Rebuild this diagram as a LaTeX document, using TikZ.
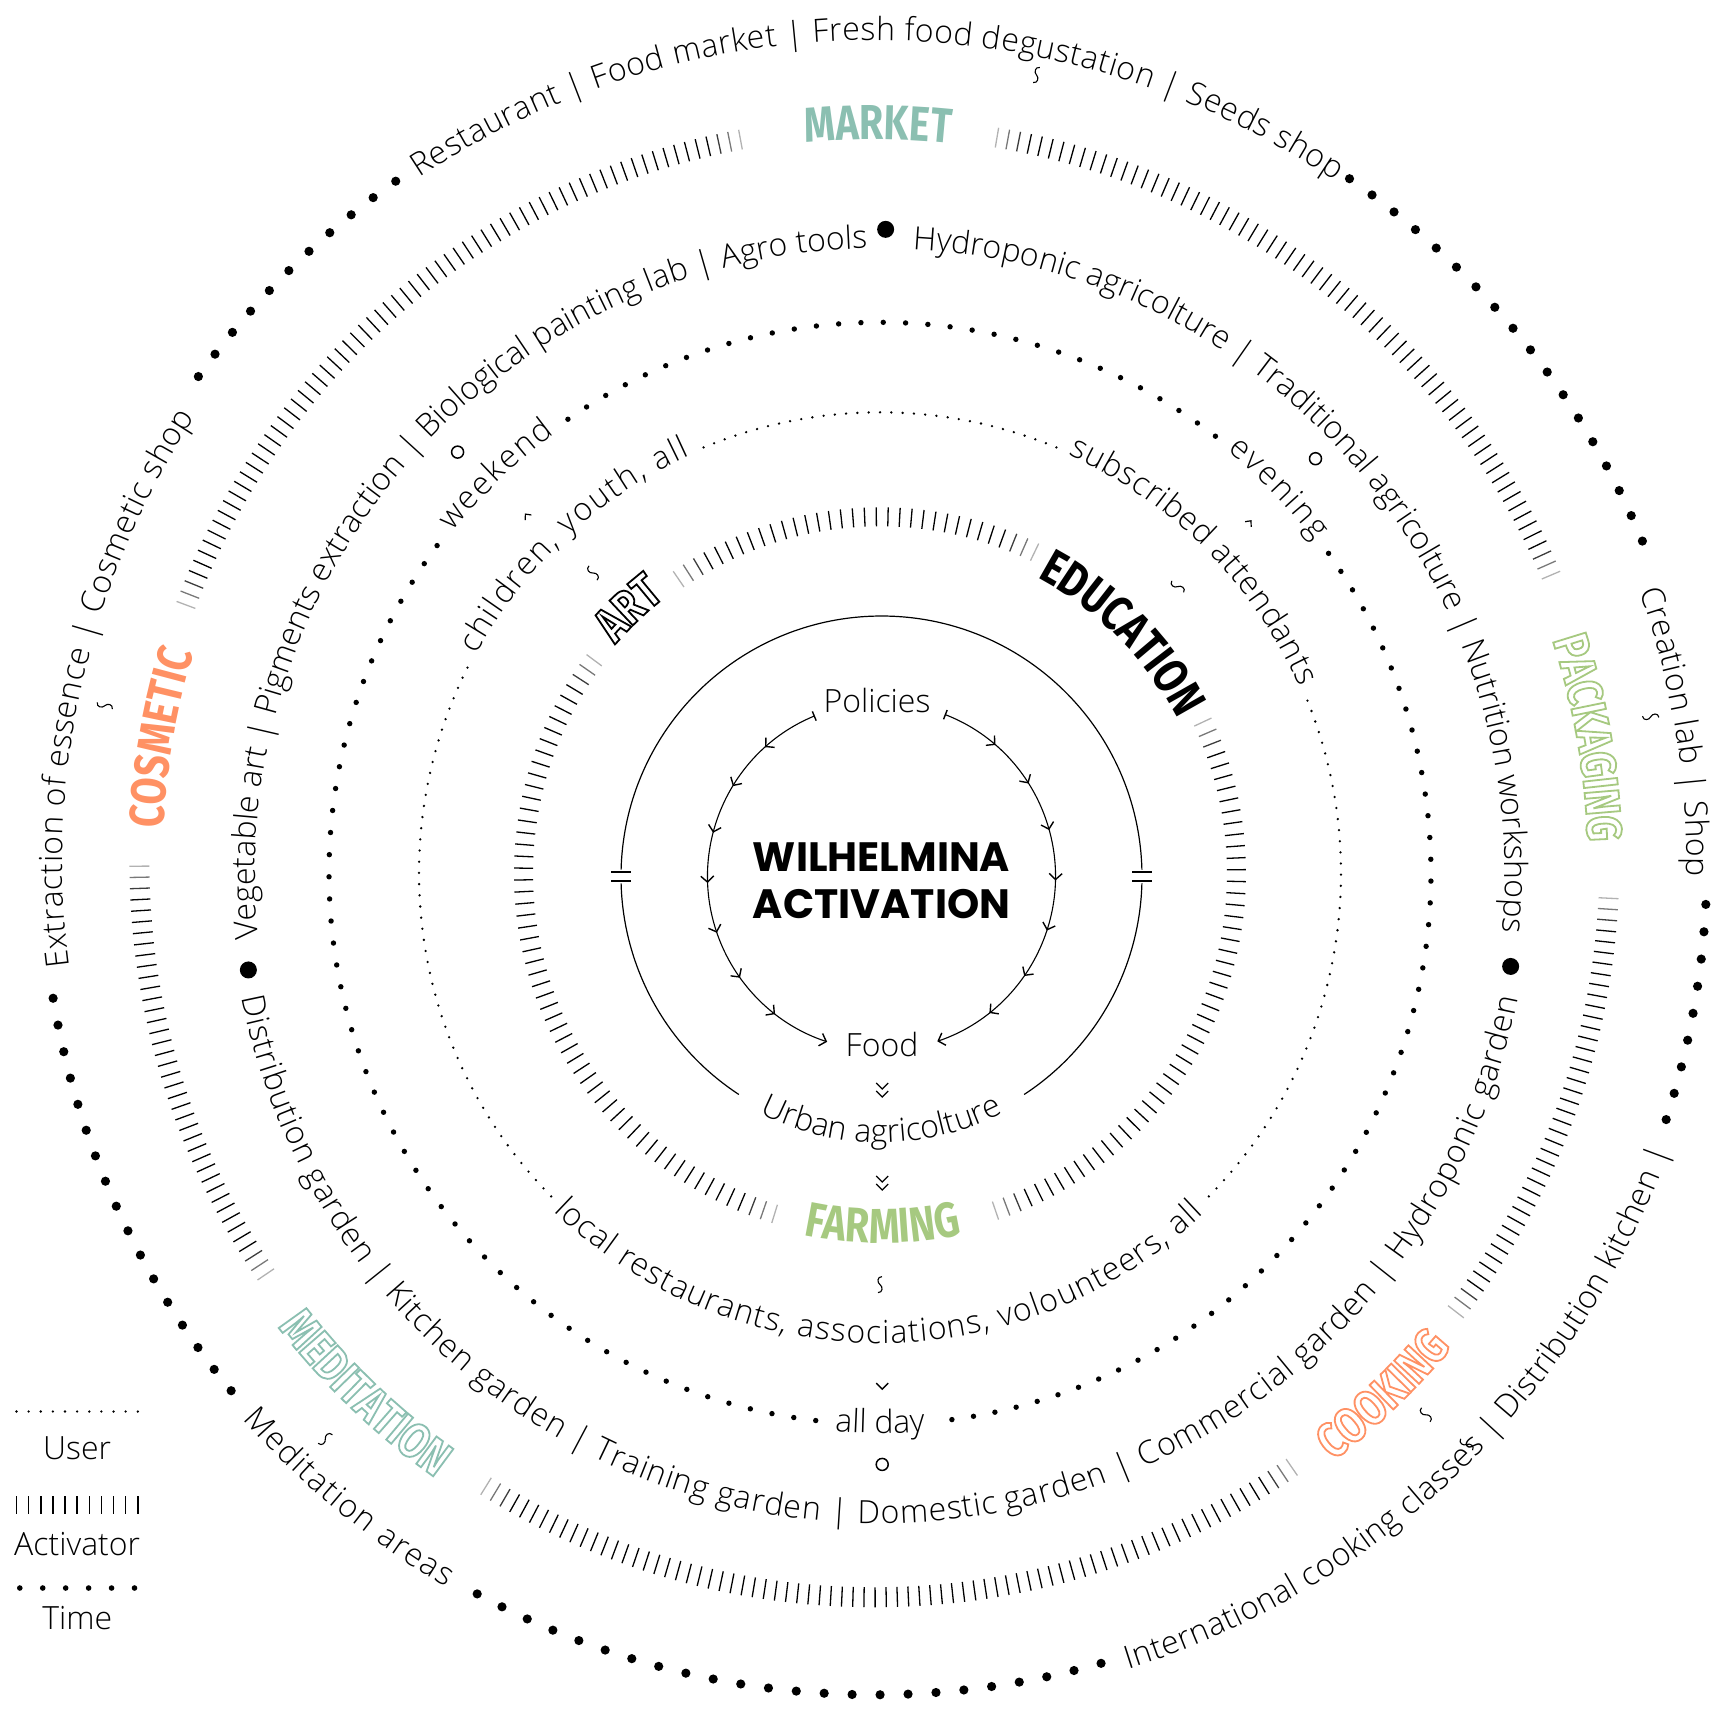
\documentclass[tikz,border=0pt]{standalone}
\usepackage{fontspec}
\usetikzlibrary{decorations.text,decorations.markings,arrows.meta,calc}
\IfFontExistsTF{Open Sans Light}{\newfontfamily\ringfam{Open Sans Light}}{\newfontfamily\ringfam{Open Sans}}
\newfontfamily\labfam{Fira Sans}[FakeStretch=0.8]
\newfontfamily\titfam{Poppins}
\newcommand\resetTr{\special{pdf:literal direct 0 Tr}}
\newcommand\ringf{\resetTr\ringfam\fontsize{32}{38}\selectfont}
\newcommand\lblf{\labfam\bfseries\fontsize{49}{50}\selectfont}
\definecolor{mteal}{HTML}{8BBFB1}
\definecolor{morange}{HTML}{FF9164}
\definecolor{mgreen}{HTML}{A6C980}
% text along an arc: center, radius, start, end, align, text
\newcommand\arctext[6]{%
  \path[decorate,decoration={text along path,text format delimiters={[}{]},
     text align={#5},text={[\ringf]#6}}]
     ($(#1)+(#3:#2)$) arc[start angle=#3,end angle=#4,radius=#2];}
% filled label
\newcommand\lbltext[6]{%
  \path[decorate,decoration={text along path,text format delimiters={[}{]},
     text align=center,text={[\resetTr\lblf\color{#5}]#6}}]
     ($(#1)+(#3:#2)$) arc[start angle=#3,end angle=#4,radius=#2];}
% hollow (outlined) label
\newcommand\hollowtext[6]{%
  \path[decorate,decoration={text along path,text format delimiters={[}{]},
     text align=center,text={[\lblf\color{#5}\special{pdf:literal direct 1 Tr 1.8 w}]#6}}]
     ($(#1)+(#3:#2)$) arc[start angle=#3,end angle=#4,radius=#2];}
% ticks: center, r1, r2, a1, a2, n
\newcommand\tickarc[6]{%
  \foreach \i in {0,...,#6}{%
    \pgfmathsetmacro\tang{(#4)+((#5)-(#4))*\i/#6}%
    \pgfmathsetmacro\tdd{min(\i,#6-\i)}%
    \pgfmathsetmacro\topac{min(1,0.3+0.23*\tdd)}%
    \draw[shift={(#1)},line width=1.3,draw opacity=\topac] (\tang:#2) -- (\tang:#3);}}
% dots: center, r, a1, a2, n, dot radius
\newcommand\dotarc[6]{%
  \foreach \i in {0,...,#5}{%
    \pgfmathsetmacro\dang{(#3)+((#4)-(#3))*\i/#5}%
    \fill[shift={(#1)}] (\dang:#2) circle[radius=#6];}}
\tikzset{
  squig/.pic={\draw[line width=1.1] (2,8) .. controls (-3,8) and (-3,2) .. (0,0) .. controls (3,-2) and (3,-8) .. (-2,-8);},
  caretmark/.pic={\draw[line width=1.2] (-4,-2) -- (0,2.5) -- (4,-2);},
  chev/.pic={\draw[line width=1.3] (-6,3) -- (0,-3) -- (6,3);},
  ringlbl/.style={font=\ringf,inner sep=0pt},
  tipb/.tip={Straight Barb[length=6pt,width=13pt,line width=1.4pt]}
}
\begin{document}
\begin{tikzpicture}[x=1pt,y=1pt]
\useasboundingbox (0,0) rectangle (1729,-1717);
\fill[white] (0,0) rectangle (1729,-1717);
\coordinate (Cin) at (881.5,-876.5);
\coordinate (Cm) at (880,-873.3);
\coordinate (Co) at (874.4,-862.3);

% ---------- core ----------
\draw[line width=1.2] ($(Cin)+(1.5:260.5)$) arc[start angle=1.5,end angle=178.5,radius=260.5];
\draw[line width=1.2] ($(Cin)+(181.5:260.5)$) arc[start angle=181.5,end angle=236.8,radius=260.5];
\draw[line width=1.2] ($(Cin)+(303.2:260.5)$) arc[start angle=303.2,end angle=358.5,radius=260.5];
\foreach \sx in {-260.5,260.5}{%
  \draw[line width=1.8] ($(Cin)+(\sx-10,4.5)$) -- ++(20,0);
  \draw[line width=1.8] ($(Cin)+(\sx-10,-4.5)$) -- ++(20,0);}

\node[ringlbl] (pol) at (877,-700) {Policies};
\node[ringlbl] (food) at (882,-1044.6) {Food};
\coordinate (pL) at ($(Cin)+(112.5:174)$);
\coordinate (pR) at ($(Cin)+(68.7:174)$);
\draw[line width=1.1,{Bar[width=10pt,line width=1.4pt]}-tipb,postaction={decorate},
  decoration={markings,mark=between positions 0.14 and 0.87 step 0.12 with {\arrow{tipb}}}]
  (pL) arc[start angle=112.5,end angle=251.8,radius=174];
\draw[line width=1.1,{Bar[width=10pt,line width=1.4pt]}-tipb,postaction={decorate},
  decoration={markings,mark=between positions 0.14 and 0.87 step 0.12 with {\arrow{tipb}}}]
  (pR) arc[start angle=68.7,end angle=-71.3,radius=174];

\node[font=\titfam\bfseries\fontsize{41}{41}\selectfont,anchor=base,inner sep=0pt] (t1) at (881.5,-871.4) {WILHELMINA};
\node[font=\titfam\bfseries\fontsize{41}{41}\selectfont,anchor=base,inner sep=0pt] (t2) at (881.5,-918) {ACTIVATION};

\arctext{Cin}{266}{-125}{-55}{center}{Urban agricolture}
\pic at (882.2,-1086) {chev}; \pic at (882.2,-1094) {chev};
\pic at (882.2,-1179) {chev}; \pic at (882.2,-1187) {chev};

% ---------- inner activator ring ----------
\tickarc{Cm}{347}{366}{64.3}{124.4}{32}
\tickarc{Cm}{347}{366}{25.1}{-71.1}{51}
\tickarc{Cm}{347}{366}{143.3}{252.8}{58}
\lbltext{Cm}{335}{73.7}{15.7}{black}{EDUCATION}
\lbltext{Cm}{370}{-114.6}{-64.6}{mgreen}{FARMING}

% ---------- user ring ----------
\dotarc{Cm}{461}{112.5}{67.5}{32}{1.3}
\dotarc{Cm}{461}{22}{-44.5}{48}{1.3}
\dotarc{Cm}{461}{153.5}{224.5}{51}{1.3}
\arctext{Cm}{459}{151.6}{114.4}{fit to path}{children, youth, all}
\arctext{Cm}{459}{65.8}{24}{fit to path}{subscribed attendants}
\arctext{Cm}{470}{-134}{-46.5}{fit to path}{local restaurants, associations, volounteers, all}

% ---------- time ring ----------
\dotarc{Cm}{551}{124.5}{52.5}{31}{2.7}
\dotarc{Cm}{551}{35.5}{-82.5}{52}{2.7}
\dotarc{Cm}{551}{143.5}{263.3}{52}{2.7}
\arctext{Cm}{547}{141.4}{126.5}{fit to path}{weekend}
\arctext{Cm}{547}{50.6}{37.4}{fit to path}{evening}
\arctext{Cm}{560}{-110}{-70}{center}{all day}

% ---------- inner text ring ----------
\arctext{Cm}{625}{186}{91.5}{fit to path}{Vegetable art | Pigments extraction | Biological painting lab | Agro tools}
\arctext{Cm}{625}{87}{-5.4}{fit to path}{Hydroponic agricolture | Traditional agricolture | Nutrition workshops}
\arctext{Cm}{650}{191}{348.9}{fit to path}{Distribution garden | Kitchen garden | Training garden | Domestic garden | Commercial garden | Hydroponic garden}
\fill ($(Cm)+(188.7:639)$) circle[radius=8.5];
\fill ($(Cm)+(89.5:644)$) circle[radius=8.5];
\fill ($(Cm)+(-8.4:637.5)$) circle[radius=8.5];

% ---------- outer activator ring ----------
\tickarc{Co}{725}{745}{100.5}{159.5}{69}
\tickarc{Co}{725}{745}{80.4}{23}{67}
\tickarc{Co}{725}{745}{-2.8}{-37.7}{41}
\tickarc{Co}{725}{745}{-55.4}{-121.9}{77}
\tickarc{Co}{725}{745}{214.1}{180.3}{39}
\lbltext{Co}{723}{104.7}{74.7}{mteal}{MARKET}
\lbltext{Co}{712}{190.1}{150.1}{morange}{COSMETIC}

% ---------- outer time ring ----------
\dotarc{Co}{832.5}{144.3}{125.1}{10}{4.6}
\dotarc{Co}{832.5}{55.2}{22.7}{17}{4.6}
\dotarc{Co}{832.5}{-2.9}{-18}{8}{4.6}
\dotarc{Co}{832.5}{-74.2}{-118.5}{23}{4.6}
\dotarc{Co}{832.5}{219.4}{189.4}{16}{4.6}
\arctext{Co}{822}{123.6}{56}{fit to path}{Restaurant | Food market | Fresh food degustation | Seeds shop}
\arctext{Co}{812}{19.5}{-1}{fit to path}{Creation lab | Shop}
\arctext{Co}{812}{187.4}{146.8}{fit to path}{Extraction of essence | Cosmetic shop}
\arctext{Co}{842}{-138.6}{-120.6}{fit to path}{Meditation areas}
\arctext{Co}{846}{-72.5}{-20}{fit to path}{International cooking classes | Distribution kitchen |}

% ---------- small marks ----------
\pic[rotate=43] at (593,-573) {squig};
\pic at (880,-1284.6) {squig};
\pic[rotate=80] at (104.8,-705.7) {squig};
\pic[rotate=-80] at (1650.7,-716.8) {squig};
\pic[rotate=45] at (1425.8,-1414.8) {squig};
\pic[rotate=-45] at (325.3,-1439) {squig};
\pic[rotate=60] at (1177.7,-586.6) {squig};
\pic[rotate=-10] at (1036.5,-75) {squig};
\pic[rotate=60] at (1466.6,-1444.5) {squig};
\pic[rotate=40] at (527,-516) {caretmark};
\pic[rotate=-40] at (1249.4,-522.7) {caretmark};
\draw[line width=1.5] (457.6,-452.1) circle[radius=6];
\draw[line width=1.5] (1315.5,-458.7) circle[radius=6];
\draw[line width=1.5] (882.2,-1464.4) circle[radius=6];
\pic at (882.2,-1386.1) {chev};

% ---------- legend ----------
\foreach \i in {0,...,10} \fill (16.5+12.13*\i,-1411.5) circle[radius=1.3];
\node[ringlbl] (lgU) at (77.2,-1447.8) {User};
\foreach \i in {0,...,10} \draw[line width=1.5] (16.5+12.13*\i,-1496) -- ++(0,-18);
\node[ringlbl] (lgA) at (77.2,-1543.8) {Activator};
\foreach \i in {0,...,5} \fill (19.8+22.94*\i,-1588) circle[radius=2.8];
\node[ringlbl] (lgT) at (77.2,-1617.6) {Time};

% ---------- outlined labels (drawn last) ----------
\hollowtext{Cm}{350}{158.5}{108.5}{black}{ART}
\hollowtext{Co}{713.5}{29.9}{-10.1}{mgreen}{PACKAGING}
\hollowtext{Co}{754}{-61.3}{-31.3}{morange}{COOKING}
\hollowtext{Co}{756}{-153.8}{-113.8}{mteal}{MEDITATION}
\resetTr
\end{tikzpicture}
\end{document}
